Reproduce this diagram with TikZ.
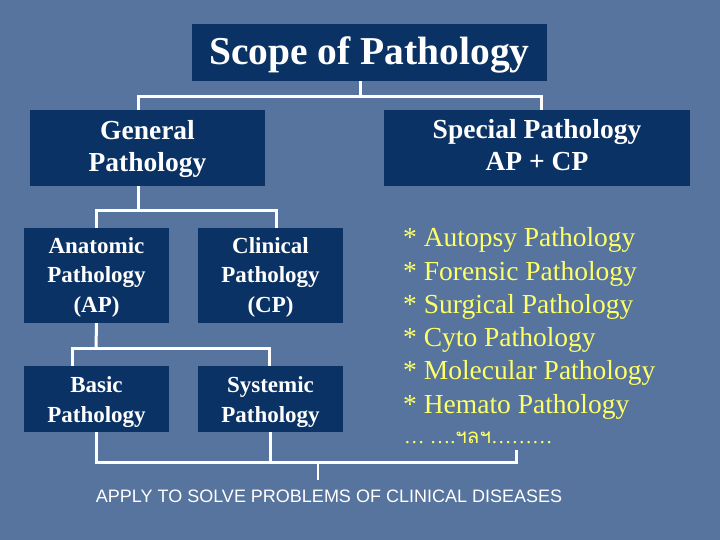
\documentclass[tikz,border=0pt]{standalone}
\usepackage{fontspec}
\setmainfont{Liberation Serif}
\setsansfont{Liberation Sans}
\newfontfamily\thaifont[Script=Thai]{Loma}
\definecolor{bg}{RGB}{86,116,158}
\definecolor{navy}{RGB}{10,50,100}
\definecolor{ylw}{RGB}{255,255,102}
\begin{document}
\begin{tikzpicture}[x=1pt,y=-1pt,
  box/.style={fill=navy,inner sep=0pt},
  label/.style={anchor=base,text=white,align=center,inner sep=0pt},
  bigfont/.style={font=\bfseries\fontsize{39.5}{44}\selectfont},
  midfont/.style={font=\bfseries\fontsize{27.5}{32}\selectfont},
  smallfont/.style={font=\bfseries\fontsize{23}{29.5}\selectfont},
  item/.style={anchor=base west,text=ylw,inner sep=0pt,font=\fontsize{27.5}{33.2}\selectfont},
  conn/.style={draw=white,line width=3pt,line join=miter},
  thinconn/.style={draw=white,line width=1.3pt}]
\fill[bg] (0,0) rectangle (720,540);
\useasboundingbox (0,0) rectangle (720,540);
% boxes
\node[box,minimum width=355pt,minimum height=57pt] (top) at (369.5,52.5) {};
\node[box,minimum width=235pt,minimum height=76pt] (gen) at (147.5,148) {};
\node[box,minimum width=306pt,minimum height=76pt] (spec) at (537,148) {};
\node[box,minimum width=145pt,minimum height=95pt] (ana) at (96.5,275.5) {};
\node[box,minimum width=145pt,minimum height=95pt] (cli) at (270.5,275.5) {};
\node[box,minimum width=145pt,minimum height=66pt] (basic) at (96.5,399) {};
\node[box,minimum width=145pt,minimum height=66pt] (sys) at (270.5,399) {};
% box texts
\node[label,bigfont] (topT) at (top.center |- 0,65) {Scope of Pathology};
\node[label,midfont] (genT) at (gen.center |- 0,171.5) {General\\Pathology};
\node[label,midfont] (specT) at (spec.center |- 0,170.5) {Special Pathology\\AP + CP};
\node[label,smallfont] (anaT) at (ana.center |- 0,312) {Anatomic\\Pathology\\(AP)};
\node[label,smallfont] (cliT) at (cli.center |- 0,312) {Clinical\\Pathology\\(CP)};
\node[label,smallfont] (basicT) at (basic.center |- 0,422) {Basic\\Pathology};
\node[label,smallfont] (sysT) at (sys.center |- 0,422) {Systemic\\Pathology};
% list
\node[item] (l1) at (403,247) {* Autopsy Pathology};
\node[item] (l2) at (403,280.2) {* Forensic Pathology};
\node[item] (l3) at (403,313.4) {* Surgical Pathology};
\node[item] (l4) at (403,346.6) {* Cyto Pathology};
\node[item] (l5) at (403,379.8) {* Molecular Pathology};
\node[item] (l6) at (403,413) {* Hemato Pathology};
\node[anchor=base west,text=ylw,inner sep=0pt,font=\fontsize{20.5}{24}\selectfont] (etc) at (404,443)
  {\dots\ \dots.{\thaifont ฯลฯ}\dots\dots\dots};
\node[anchor=base,text=white,inner sep=0pt,font=\sffamily\fontsize{18}{21}\selectfont] (apply) at (329,502)
  {APPLY TO SOLVE PROBLEMS OF CLINICAL DISEASES};
% connectors
\coordinate (j1) at (360,97);
\draw[conn] (top.south -| j1) -- (j1);
\draw[conn] ([xshift=-9.5pt]gen.north) |- (j1) -| ([xshift=4pt]spec.north);
\coordinate (j2) at (138,211);
\draw[conn] ([xshift=-9.5pt]gen.south) -- (j2);
\draw[conn] (ana.north) |- (j2) -| ([xshift=5.5pt]cli.north);
\coordinate (j3) at (96,348);
\draw[conn] (ana.south) -- (j3);
\draw[conn] ([xshift=-24.5pt]basic.north) |- (j3) -| ([xshift=-1.5pt]sys.north);
\coordinate (c4) at (516,462);
\coordinate (e1) at (516,450);
\coordinate (j4) at (318,462);
\coordinate (j5) at (318,480);
\draw[conn] (basic.south) |- (c4) -- (e1);
\draw[conn] (sys.south) -- (sys.south |- c4);
\draw[thinconn] (j4) -- (j5);
\end{tikzpicture}
\end{document}
